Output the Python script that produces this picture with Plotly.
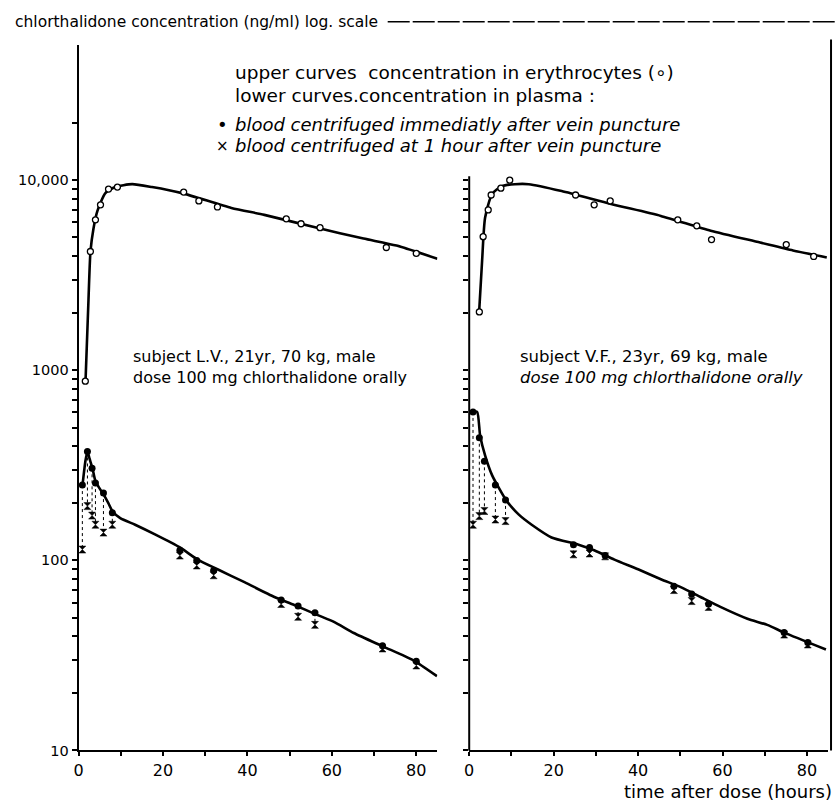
import plotly.graph_objects as go

W, H = 836, 808

# ---------------- data (time in hours, concentration in ng/ml) ----------------
# subject L.V. - erythrocytes (open circles) and fitted curve
ery_t_lv = [1.6, 2.8, 4.0, 5.2, 7.1, 9.2, 24.9, 28.5, 32.9, 49.2, 52.7, 57.2, 72.9, 80.0]
ery_v_lv = [877, 4217, 6190, 7420, 8980, 9200, 8660, 7780, 7230, 6265, 5900, 5625, 4425, 4120]
ery_fit_t_lv = [1.65, 2.35, 2.82, 3.53, 4.47, 6.35, 8.7, 12.7, 17.4, 24.5, 36.2, 44.0, 56.5, 67.5, 75.3, 85.0]
ery_fit_v_lv = [877, 2345, 4217, 5560, 6900, 8550, 9200, 9530, 9200, 8550, 7150, 6570, 5620, 4930, 4530, 3860]

# subject L.V. - plasma
pl_t_lv = [0.9, 2.1, 3.2, 4.0, 5.9, 8.0, 24, 28, 32, 48, 52, 56, 72, 80]
pl_imm_lv = [249, 374, 305, 255, 226, 178, 113, 100, 88.6, 61.9, 57.5, 53, 35.6, 29.5]
pl_1h_lv = [114, 193, 172, 154, 140, 154, 106, 94, 83.5, 59, 50.5, 45.8, 34.4, 28]
pl_fit_t_lv = [0.94, 1.65, 2.12, 2.59, 3.29, 4.0, 4.94, 5.88, 7.06, 8.0, 9.88, 13.4, 18.1, 24.0,
               28.2, 32.9, 39.3, 46.4, 51.1, 56.5, 60.5, 65.2, 72.2, 79.3, 84.9]
pl_fit_v_lv = [249, 336, 374, 344, 305, 261, 240, 223, 200, 182, 167, 154, 137, 117,
               101, 89.8, 76.8, 64.2, 58.3, 51.7, 47.5, 41.5, 35.2, 29.8, 24.6]

# subject V.F. - erythrocytes
ery_t_vf = [2.4, 3.3, 4.5, 5.2, 7.5, 9.6, 25.2, 29.6, 33.4, 49.4, 53.9, 57.4, 75.1, 81.6]
ery_v_vf = [2028, 5047, 6980, 8360, 9080, 10000, 8360, 7420, 7780, 6190, 5755, 4870, 4585, 3970]
ery_fit_t_vf = [2.35, 3.06, 3.76, 5.41, 7.76, 10.8, 14.1, 21.9, 33.6, 45.4, 57.2, 68.9, 76.7, 84.7]
ery_fit_v_vf = [2028, 3785, 6340, 8450, 9310, 9530, 9530, 8770, 7500, 6490, 5420, 4700, 4270, 3925]

# subject V.F. - plasma
pl_t_vf = [0.9, 2.4, 3.6, 6.2, 8.6, 24.7, 28.5, 32.2, 48.5, 52.7, 56.7, 74.6, 80.2]
pl_imm_vf = [604, 442, 332, 249, 208, 121, 117, 106, 73.2, 66.5, 59, 41.7, 37]
pl_1h_vf = [154, 171, 182, 164, 161, 107.6, 108.7, 105, 69.8, 61.1, 56.9, 40.7, 36.1]
pl_fit_t_vf = [0.94, 1.88, 2.59, 3.76, 5.41, 8.71, 11.76, 14.8, 19.5, 25.9, 29.6, 34.4, 40.0,
               45.4, 50.1, 54.8, 59.5, 65.9, 70.6, 74.6, 84.5]
pl_fit_v_vf = [604, 604, 453, 357, 281, 208, 174, 154, 132, 121, 113, 101, 89.8,
               79.6, 72.3, 64.2, 56.9, 49.3, 45.8, 41.7, 34.0]

# axis ticks
x_tickvals = [0, 10, 20, 30, 40, 50, 60, 70, 80]
x_ticktext = ["0", "", "20", "", "40", "", "60", "", "80"]
y_major = {10: "10", 100: "100", 1000: "1000", 10000: "10,000"}

# ---------------- figure ----------------
FONT = "DejaVu Sans"
fig = go.Figure()


def connectors(t, a, b):
    xs, ys = [], []
    for ti, ai, bi in zip(t, a, b):
        xs += [ti, ti, None]
        ys += [ai, bi, None]
    return xs, ys


panels = [
    ("x", "y", ery_t_lv, ery_v_lv, ery_fit_t_lv, ery_fit_v_lv, pl_t_lv, pl_imm_lv, pl_1h_lv, pl_fit_t_lv, pl_fit_v_lv),
    ("x2", "y2", ery_t_vf, ery_v_vf, ery_fit_t_vf, ery_fit_v_vf, pl_t_vf, pl_imm_vf, pl_1h_vf, pl_fit_t_vf, pl_fit_v_vf),
]
for xa, ya, et, ev, eft, efv, pt, pim, p1h, pft, pfv in panels:
    cx, cy = connectors(pt, pim, p1h)
    fig.add_trace(go.Scatter(x=cx, y=cy, xaxis=xa, yaxis=ya, mode="lines",
                             line=dict(color="black", width=1, dash="dot"),
                             showlegend=False, hoverinfo="skip"))
    fig.add_trace(go.Scatter(x=eft, y=efv, xaxis=xa, yaxis=ya, mode="lines",
                             line=dict(color="black", width=2.6, shape="spline", smoothing=0.6),
                             showlegend=False))
    fig.add_trace(go.Scatter(x=pft, y=pfv, xaxis=xa, yaxis=ya, mode="lines",
                             line=dict(color="black", width=2.6, shape="spline", smoothing=0.6),
                             showlegend=False))
    fig.add_trace(go.Scatter(x=et, y=ev, xaxis=xa, yaxis=ya, mode="markers",
                             marker=dict(symbol="circle", size=6, color="white",
                                         line=dict(color="black", width=1.3)),
                             showlegend=False))
    fig.add_trace(go.Scatter(x=pt, y=p1h, xaxis=xa, yaxis=ya, mode="markers",
                             marker=dict(symbol="hourglass", size=7, color="black",
                                         line=dict(color="black", width=0.5)),
                             showlegend=False))
    fig.add_trace(go.Scatter(x=pt, y=pim, xaxis=xa, yaxis=ya, mode="markers",
                             marker=dict(symbol="circle", size=7, color="black"),
                             showlegend=False))

# y ticks: all 1..9 x 10^n
y_all = []
for dec in [10, 100, 1000, 10000]:
    for m in range(1, 10):
        y_all.append(m * dec)
y_left = [v for v in y_all if v <= 20000]
y_left_text = [y_major.get(v, "") for v in y_left]
y_right = [v for v in y_all if v <= 10000]

px_bottom, px_top = 758, 45
ydom = [1 - px_bottom / H, 1 - px_top / H]
yrange = [1, 1 + (px_bottom - px_top) / 192.0]

xcommon = dict(range=[0, 85], showgrid=False, zeroline=False, showline=True,
               linecolor="black", linewidth=2, ticks="outside", ticklen=4, tickwidth=1.5,
               tickcolor="black", tickvals=x_tickvals, ticktext=x_ticktext,
               tickfont=dict(family=FONT, size=16, color="black"))
ycommon = dict(type="log", range=yrange, domain=ydom, showgrid=False, zeroline=False,
               ticks="outside", ticklen=5, tickwidth=1.5, tickcolor="black",
               tickfont=dict(family=FONT, size=14.5, color="black"))

X0L, X1L = 74, 435
X0R, X1R = 467, 828

fig.update_layout(
    width=W, height=H,
    margin=dict(l=0, r=0, t=0, b=0),
    paper_bgcolor="white", plot_bgcolor="white",
    font=dict(family=FONT, color="black"),
    xaxis=dict(domain=[X0L / W, X1L / W], anchor="y", **xcommon),
    xaxis2=dict(domain=[X0R / W, X1R / W], anchor="y2", **xcommon),
    yaxis=dict(anchor="x", showline=True, linecolor="black", linewidth=2,
               tickvals=y_left, ticktext=y_left_text, **ycommon),
    yaxis2=dict(anchor="x2", showline=False, tickvals=y_right,
                showticklabels=False, **ycommon),
    showlegend=False,
)

# right panel axis line (starts near 10,000) and right border
fig.add_shape(type="line", xref="paper", yref="paper",
              x0=X0R / W, x1=X0R / W, y0=1 - px_bottom / H, y1=1 - 178 / H,
              line=dict(color="black", width=2))
fig.add_shape(type="line", xref="paper", yref="paper",
              x0=831 / W, x1=831 / W, y0=1 - px_bottom / H, y1=1 - 40 / H,
              line=dict(color="black", width=2))
# title rule
fig.add_shape(type="line", xref="paper", yref="paper",
              x0=385 / W, x1=1, y0=1 - 22 / H, y1=1 - 22 / H,
              line=dict(color="black", width=1.5, dash="22px,3px"))


def note(text, xpx, ypx, size, anchor="left"):
    fig.add_annotation(text=text, xref="paper", yref="paper", x=xpx / W, y=1 - ypx / H,
                       xanchor=anchor, yanchor="middle", showarrow=False,
                       font=dict(family=FONT, size=size, color="black"))


note("chlorthalidone concentration (ng/ml) log. scale", 8, 22, 15.5)
note("upper curves  concentration in erythrocytes (∘)", 229, 73, 18.5)
note("lower curves.concentration in plasma :", 229, 96, 18.5)
note("•", 211, 126, 18)
note("<i>blood centrifuged immediatly after vein puncture</i>", 229, 126, 18)
note("×", 210, 147, 15)
note("<i>blood centrifuged at 1 hour after vein puncture</i>", 229, 147, 18)
note("subject L.V., 21yr, 70 kg, male", 127, 360, 16)
note("dose 100 mg chlorthalidone orally", 127, 381, 16)
note("subject V.F., 23yr, 69 kg, male", 516, 360, 16.5)
note("<i>dose 100 mg chlorthalidone orally</i>", 516, 381, 16.5)
note("time after dose (hours)", 834, 799, 18, anchor="right")

fig.write_html("out.html", config={"displayModeBar": False},
               post_script="document.body.style.margin='0';document.body.style.padding='0';")
